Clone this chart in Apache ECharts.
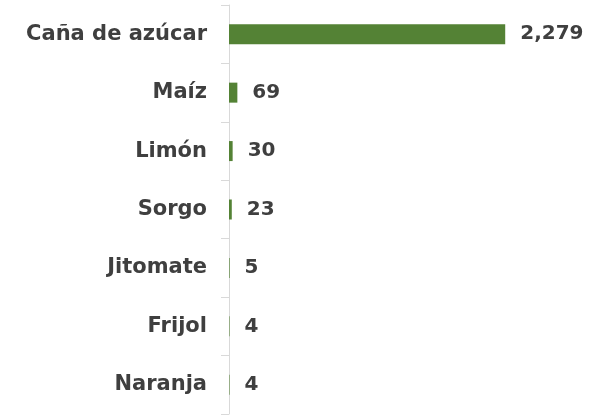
<!DOCTYPE html>
<html><head><meta charset="utf-8">
<script src="https://cdn.jsdelivr.net/npm/echarts@6/dist/echarts.min.js"></script>
<style>html,body{margin:0;padding:0;background:#fff}#c{width:599px;height:415px}</style>
</head><body><div id="c"></div>
<script>
const categories = ["Caña de azúcar", "Maíz", "Limón", "Sorgo", "Jitomate", "Frijol", "Naranja"];
const values = [2279, 69, 30, 23, 5, 4, 4];

const chart = echarts.init(document.getElementById('c'), null, {renderer: 'canvas'});
const txt = '#3f3f3f';
const fontFam = '"DejaVu Sans", sans-serif';
chart.setOption({
  animation: false,
  grid: {left: 229, top: 5, width: 303, height: 409, containLabel: false},
  xAxis: {type: 'value', min: 0, max: 2500, show: false},
  yAxis: {
    type: 'category', data: categories, inverse: true,
    axisLine: {show: true, lineStyle: {color: '#d9d9d9', width: 1}},
    axisTick: {show: true, length: 8, lineStyle: {color: '#d9d9d9'}},
    axisLabel: {color: txt, fontFamily: fontFam, fontWeight: 'bold', fontSize: 21, margin: 22}
  },
  series: [{
    type: 'bar', data: values, barWidth: 20,
    itemStyle: {color: '#548235'},
    label: {show: true, position: 'right', distance: 15, color: txt, fontFamily: fontFam, fontWeight: 'bold', fontSize: 20,
      formatter: p => p.value.toLocaleString('en-US')}
  }]
});
</script></body></html>
